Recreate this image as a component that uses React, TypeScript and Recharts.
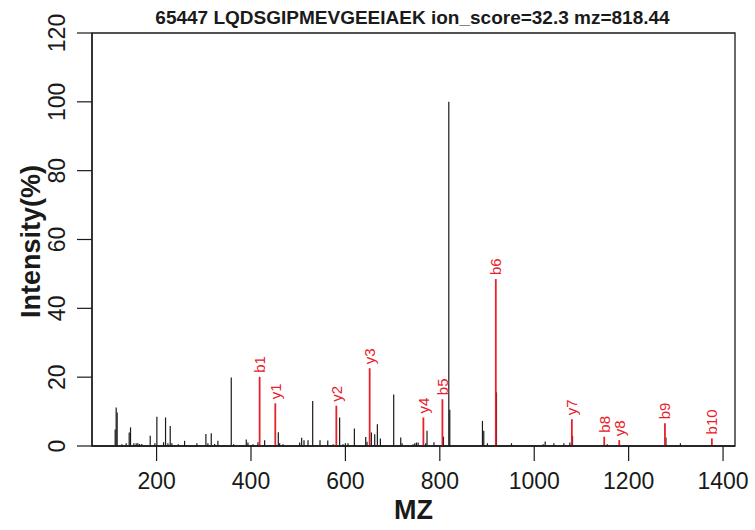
import React from 'react';
import { ComposedChart, XAxis, YAxis, ReferenceLine, ReferenceArea, Scatter } from 'recharts';

// Unannotated peaks (black)
const peakMz = [
  112.3, 114.4, 116.5, 126.4, 135.6, 142.0, 144.8, 151.9, 156.8, 160.3, 163.9, 168.8,
  186.5, 196.4, 200.6, 214.8, 219.0, 224.0, 228.9, 232.4, 245.9, 259.3, 285.4, 304.5,
  308.7, 315.8, 322.9, 329.9, 358.2, 363.2, 390.0, 393.5, 404.1, 414.7, 428.9, 457.9,
  460.7, 467.8, 503.1, 507.3, 512.3, 520.8, 530.7, 546.2, 562.6, 573.9, 587.8, 594.9,
  599.9, 605.5, 619.0, 643.0, 645.8, 655.0, 662.1, 667.7, 674.1, 702.3, 717.2, 720.0,
  743.4, 747.0, 750.5, 754.1, 770.1, 772.9, 787.6, 807.7, 819.0, 821.1, 890.3, 893.1,
  900.9, 920.0, 951.8, 1018.9, 1023.2, 1041.6, 1062.8, 1075.5, 1081.1, 1154.7, 1279.0, 1309.7,
];
const peakInt = [
  4.8, 11.2, 9.7, 0.5, 0.8, 3.9, 5.4, 0.8, 0.8, 0.8, 0.6, 0.6,
  3.0, 0.8, 8.5, 1.1, 8.3, 0.8, 5.8, 0.8, 0.5, 1.5, 0.8, 3.5,
  0.8, 3.7, 0.6, 1.5, 19.9, 0.5, 1.9, 1.0, 0.5, 1.1, 1.7, 4.0,
  0.8, 0.5, 1.0, 2.4, 1.7, 1.7, 13.1, 1.7, 1.6, 0.5, 8.3, 0.5,
  0.8, 0.8, 5.1, 2.6, 1.2, 3.9, 3.4, 6.3, 2.2, 15.0, 2.5, 0.8,
  0.5, 0.8, 1.0, 1.0, 0.8, 4.4, 1.1, 2.7, 100, 10.5, 7.3, 4.4,
  0.8, 15.6, 0.8, 0.5, 1.3, 0.8, 0.8, 1.0, 2.9, 0.5, 2.5, 0.8,
];

// Annotated fragment ions (red)
const ionLabels = ['b1', 'y1', 'y2', 'y3', 'y4', 'b5', 'b6', 'y7', 'b8', 'y8', 'b9', 'b10'];
const ionMz = [418.3, 451.5, 580.8, 651.4, 765.2, 805.5, 918.6, 1079.7, 1148.3, 1180.1, 1276.9, 1376.3];
const ionInt = [20.1, 12.4, 11.7, 22.6, 8.3, 13.6, 48.5, 7.8, 2.7, 1.7, 6.6, 2.2];

const xTicks = [200, 400, 600, 800, 1000, 1200, 1400];
const yTicks = [0, 20, 40, 60, 80, 100, 120];
const xDomain: [number, number] = [63.2, 1425.3];
const yDomain: [number, number] = [0, 120];

const titleText = '65447 LQDSGIPMEVGEEIAEK ion_score=32.3 mz=818.44';
const xLabel = 'MZ';
const yLabel = 'Intensity(%)';

const FONT = '"Liberation Sans", Arial, Helvetica, sans-serif';
const RED = '#e8202a';
const INK = '#1a1a1a';

const ions = ionLabels.map((label, i) => ({ label, mz: ionMz[i], inten: ionInt[i] }));

function IonLabel(props: any) {
  const { cx, cy, payload } = props;
  if (cx == null || cy == null) return null;
  const x = cx;
  const y = cy - 4;
  return (
    <text
      x={x}
      y={y}
      transform={`rotate(-90 ${x} ${y})`}
      dy="0.36em"
      textAnchor="start"
      fill={RED}
      fontSize={15}
      fontFamily={FONT}
    >
      {payload.label}
    </text>
  );
}

function YTick(props: any) {
  const { x, y, payload } = props;
  return (
    <text
      x={x}
      y={y}
      transform={`rotate(-90 ${x} ${y})`}
      textAnchor="middle"
      fill={INK}
      fontSize={23}
      fontFamily={FONT}
    >
      {payload.value}
    </text>
  );
}

function XTick(props: any) {
  const { x, y, payload } = props;
  return (
    <text x={x} y={y} textAnchor="middle" fill={INK} fontSize={23} fontFamily={FONT}>
      {payload.value}
    </text>
  );
}

function XLabel(props: any) {
  const vb = props.viewBox || {};
  const x = vb.x + vb.width / 2;
  const y = vb.y + 73;
  return (
    <text x={x} y={y} textAnchor="middle" fill={INK} fontSize={27} fontWeight="bold" fontFamily={FONT}>
      {xLabel}
    </text>
  );
}

function YLabel(props: any) {
  const vb = props.viewBox || {};
  const x = vb.x + 40;
  const y = vb.y + vb.height / 2 + 2;
  return (
    <text
      x={x}
      y={y}
      transform={`rotate(-90 ${x} ${y})`}
      textAnchor="middle"
      fill={INK}
      fontSize={27}
      fontWeight="bold"
      fontFamily={FONT}
    >
      {yLabel}
    </text>
  );
}

export default function App() {
  return (
    <div style={{ position: 'absolute', left: 0, top: 0, width: 755, height: 530, background: '#fff' }}>
      <ComposedChart width={755} height={530} margin={{ top: 33, right: 20, bottom: 0, left: 0 }}>
        <XAxis
          dataKey="mz"
          type="number"
          domain={xDomain}
          allowDataOverflow
          ticks={xTicks}
          interval={0}
          height={84}
          tickSize={15}
          tickMargin={28}
          tick={<XTick />}
          axisLine={{ stroke: INK, strokeWidth: 1.3 }}
          tickLine={{ stroke: INK, strokeWidth: 1.2 }}
          label={XLabel}
        />
        <YAxis
          dataKey="inten"
          type="number"
          domain={yDomain}
          allowDataOverflow
          ticks={yTicks}
          interval={0}
          width={92}
          tickSize={15}
          tickMargin={12}
          tick={<YTick />}
          axisLine={{ stroke: INK, strokeWidth: 1.3 }}
          tickLine={{ stroke: INK, strokeWidth: 1.2 }}
          label={YLabel}
        />
        <ReferenceArea
          x1={xDomain[0]}
          x2={xDomain[1]}
          y1={yDomain[0]}
          y2={yDomain[1]}
          fill="none"
          stroke={INK}
          strokeWidth={1.3}
          ifOverflow="visible"
        />
        {peakMz.map((m, i) => (
          <ReferenceLine
            key={'p' + i}
            segment={[{ x: m, y: 0 }, { x: m, y: peakInt[i] }]}
            stroke={INK}
            strokeWidth={1.2}
            ifOverflow="visible"
          />
        ))}
        {ions.map((d, i) => (
          <ReferenceLine
            key={'ion' + i}
            segment={[{ x: d.mz, y: 0 }, { x: d.mz, y: d.inten }]}
            stroke={RED}
            strokeWidth={1.8}
            ifOverflow="visible"
          />
        ))}
        <Scatter data={ions} dataKey="inten" shape={IonLabel} isAnimationActive={false} />
      </ComposedChart>
      <svg width={755} height={40} style={{ position: 'absolute', left: 0, top: 0 }}>
        <text x={412.5} y={24} textAnchor="middle" fill={INK} fontSize={19} fontWeight="bold" fontFamily={FONT}>
          {titleText}
        </text>
      </svg>
    </div>
  );
}
